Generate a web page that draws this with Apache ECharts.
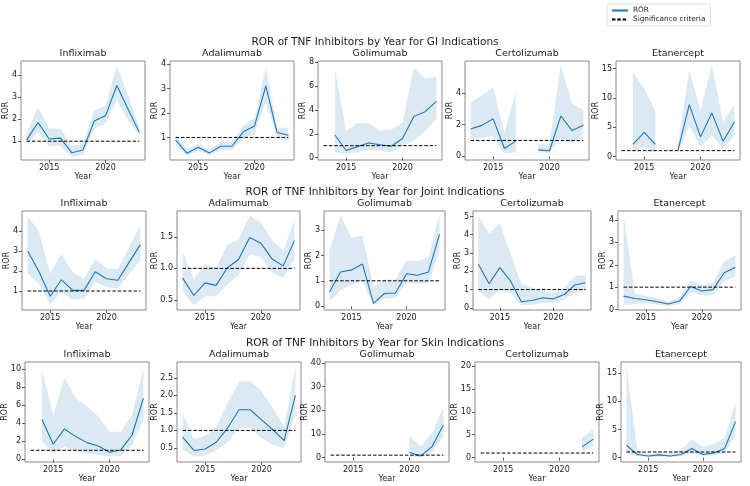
<!DOCTYPE html>
<html><head><meta charset="utf-8">
<script src="https://cdn.jsdelivr.net/npm/echarts@6/dist/echarts.min.js"></script>
<style>html,body{margin:0;padding:0;background:#fff}#c{width:750px;height:486px}</style>
</head><body><div id="c"></div>
<script>
const years = [2013,2014,2015,2016,2017,2018,2019,2020,2021,2022,2023];
const drugs = ['Infliximab','Adalimumab','Golimumab','Certolizumab','Etanercept'];
const rowTitles = ['ROR of TNF Inhibitors by Year for GI Indications','ROR of TNF Inhibitors by Year for Joint Indications','ROR of TNF Inhibitors by Year for Skin Indications'];
const xTicks = [2015, 2020];
const threshold = 1;

// GI
const giInfRor = [1.05,1.85,1.1,1.14,0.48,0.6,1.92,2.15,3.52,2.45,1.4];
const giInfLo  = [0.8,1.42,0.78,0.8,0.3,0.38,1.58,1.8,2.86,1.95,1.25];
const giInfHi  = [1.35,2.56,1.58,1.58,0.78,0.9,2.38,2.6,4.38,3.1,1.6];
const giAdaRor = [0.89,0.36,0.6,0.37,0.64,0.64,1.23,1.47,3.1,1.2,1.09];
const giAdaLo  = [0.67,0.27,0.44,0.27,0.49,0.49,0.96,1.13,2.47,1.0,0.87];
const giAdaHi  = [1.13,0.53,0.73,0.49,0.83,0.83,1.49,1.77,3.87,1.4,1.4];
const giGolRor = [null,1.9,0.6,0.92,1.22,1.08,0.95,1.6,3.44,3.85,4.72];
const giGolLo  = [null,0.46,0.33,0.46,0.65,0.6,0.46,1.0,1.41,2.22,3.25];
const giGolHi  = [null,7.37,2.22,2.9,2.85,2.28,2.36,2.9,7.56,6.61,6.75];
const giCerRor = [1.72,1.95,2.36,0.49,0.96,null,0.41,0.35,2.54,1.62,1.95];
const giCerLo  = [1.07,1.17,1.27,0.18,0.25,null,0.25,0.25,1.17,0.8,1.37];
const giCerHi  = [3.38,3.84,4.35,1.48,4.04,null,0.76,0.76,5.74,3.32,2.91];
const giEtaRor = [null,2.05,4.1,2.05,null,1.08,8.86,3.35,7.44,2.6,5.9];
const giEtaLo  = [null,0.8,1.65,0.8,null,0.55,5.2,1.65,3.6,1.36,3.6];
const giEtaHi  = [null,14.4,11.6,7.7,null,2.0,14.7,7.9,15.6,5.9,8.86];
const giYlims  = [[0.15,4.63],[0.08,4.12],[-0.2,8.1],[-0.23,6.0],[-0.6,16.3]];
const giYticks = [[1,2,3,4],[1,2,3,4],[0,2,4,6,8],[0,2,4],[0,5,10,15]];

// Joint
const jtInfRor = [3.0,1.97,0.74,1.56,1.03,1.03,1.96,1.61,1.54,2.43,3.32];
const jtInfLo  = [1.89,1.36,0.34,0.95,0.57,0.62,1.44,1.2,1.12,1.86,2.52];
const jtInfHi  = [4.74,4.0,1.86,2.85,1.94,1.61,2.6,2.14,2.1,3.17,4.33];
const jtAdaRor = [0.85,0.57,0.77,0.73,1.01,1.14,1.49,1.4,1.15,1.04,1.44];
const jtAdaLo  = [0.64,0.41,0.56,0.56,0.74,0.9,1.22,1.18,0.93,0.85,1.14];
const jtAdaHi  = [1.27,0.82,1.07,1.01,1.38,1.46,1.84,1.72,1.45,1.28,1.76];
const jtGolRor = [0.56,1.35,1.43,1.66,0.11,0.5,0.52,1.28,1.22,1.35,2.83];
const jtGolLo  = [0.19,0.63,0.84,1.0,0.04,0.29,0.33,0.91,0.88,0.91,2.15];
const jtGolHi  = [2.21,3.59,2.7,2.79,0.77,1.05,1.05,1.8,1.77,1.94,3.65];
const jtCerRor = [2.38,1.32,2.2,1.47,0.33,0.4,0.55,0.49,0.73,1.25,1.37];
const jtCerLo  = [0.92,0.46,1.0,0.82,0.13,0.18,0.27,0.27,0.46,0.82,0.92];
const jtCerHi  = [5.04,4.07,4.63,2.93,1.32,1.1,1.0,0.82,1.1,1.74,1.78];
const jtEtaRor = [0.6,0.49,0.44,0.35,0.25,0.38,1.03,0.83,0.89,1.64,1.89];
const jtEtaLo  = [0.19,0.25,0.28,0.22,0.15,0.25,0.78,0.63,0.66,1.25,1.49];
const jtEtaHi  = [4.2,0.72,0.6,0.5,0.35,0.55,1.3,1.08,1.2,2.14,2.41];
const jtYlims  = [[0.05,5.0],[0.34,1.91],[-0.15,3.75],[-0.12,5.3],[-0.02,4.4]];
const jtYticks = [[1,2,3,4],[0.5,1.0,1.5],[0,1,2,3],[0,1,2,3,4,5],[0,1,2,3,4]];

// Skin
const skInfRor = [null,4.44,1.67,3.37,2.52,1.85,1.48,0.78,1.04,2.7,6.78];
const skInfLo  = [null,1.96,0.67,1.41,0.85,0.67,0.48,0.3,0.37,1.59,4.37];
const skInfHi  = [null,9.93,4.93,9.0,6.78,5.85,4.74,3.07,3.07,4.93,10.1];
const skAdaRor = [0.81,0.43,0.47,0.67,1.07,1.59,1.59,1.3,1.02,0.71,2.0];
const skAdaLo  = [0.45,0.26,0.28,0.43,0.66,1.07,1.07,0.78,0.59,0.5,1.45];
const skAdaHi  = [1.5,0.75,0.85,1.11,1.78,2.4,2.4,2.11,1.64,1.11,2.78];
const skGolRor = [null,null,null,null,null,null,null,2.1,0.7,4.66,13.8];
const skGolLo  = [null,null,null,null,null,null,null,0.42,0.14,2.1,8.9];
const skGolHi  = [null,null,null,null,null,null,null,8.9,4.66,10.3,21.3];
const skCerRor = [null,null,null,null,null,null,null,null,null,2.35,4.04];
const skCerLo  = [null,null,null,null,null,null,null,null,null,1.25,2.5];
const skCerHi  = [null,null,null,null,null,null,null,null,null,4.34,6.18];
const skEtaRor = [2.2,0.54,0.3,0.48,0.3,0.54,1.62,0.54,0.84,1.62,6.4];
const skEtaLo  = [0.72,0.24,0.12,0.18,0.12,0.24,0.72,0.24,0.42,0.84,4.0];
const skEtaHi  = [16.3,1.3,0.7,0.84,0.72,1.44,3.23,1.92,2.4,3.6,9.82];
const skYlims  = [[-0.3,10.8],[0.1,2.95],[-1.9,40.4],[-0.96,20.9],[-0.78,17.0]];
const skYticks = [[0,2,4,6,8,10],[0.5,1.0,1.5,2.0,2.5],[0,10,20,30,40],[0,5,10,15,20],[0,5,10,15]];

const rows = [
  {ror:[giInfRor,giAdaRor,giGolRor,giCerRor,giEtaRor], lo:[giInfLo,giAdaLo,giGolLo,giCerLo,giEtaLo], hi:[giInfHi,giAdaHi,giGolHi,giCerHi,giEtaHi], ylims:giYlims, yticks:giYticks},
  {ror:[jtInfRor,jtAdaRor,jtGolRor,jtCerRor,jtEtaRor], lo:[jtInfLo,jtAdaLo,jtGolLo,jtCerLo,jtEtaLo], hi:[jtInfHi,jtAdaHi,jtGolHi,jtCerHi,jtEtaHi], ylims:jtYlims, yticks:jtYticks},
  {ror:[skInfRor,skAdaRor,skGolRor,skCerRor,skEtaRor], lo:[skInfLo,skAdaLo,skGolLo,skCerLo,skEtaLo], hi:[skInfHi,skAdaHi,skGolHi,skCerHi,skEtaHi], ylims:skYlims, yticks:skYticks}
];

// layout (pixels)
const rowTop = [61, 211, 362];
const rowHeight = [99, 99, 100];
const rowTitleY = [42, 192, 343];
const colLeft  = [[21,170,318,465,616],[22,177,324,473,618],[25,177,325,475,621]];
const colWidth = [[124,124,124,124,124],[124,123,121,118,123],[124,124,124,124,120]];

const FONT = 'DejaVu Sans';
const TXT = '#1a1a1a';
const BAND = 'rgba(31,119,180,0.16)';
const grids=[], xAxes=[], yAxes=[], series=[], titles=[];

rowTitles.forEach((t,r)=>titles.push({text:t,left:375,top:rowTitleY[r],textAlign:'center',textVerticalAlign:'middle',padding:0,
  textStyle:{fontSize:10.5,fontWeight:'normal',color:TXT,fontFamily:FONT}}));

function runsOf(lo, hi){
  const runs=[]; let s=-1;
  for(let k=0;k<=years.length;k++){
    const ok = k<years.length && lo[k]!=null && hi[k]!=null;
    if(ok && s<0) s=k;
    if(!ok && s>=0){ runs.push([s,k-1]); s=-1; }
  }
  return runs;
}

let gi = 0;
rows.forEach((row, r)=>{
  for (let c=0;c<5;c++){
    const L=colLeft[r][c], W=colWidth[r][c], T=rowTop[r], H=rowHeight[r];
    const ticks = row.yticks[c];
    const dec = ticks.some(v=>Math.round(v)!==v);
    const labW = Math.max(...ticks.map(v=>{const s=dec?v.toFixed(1):String(v); return s.replace('.','').length*5.1+(dec?2.5:0);}));
    grids.push({left:L,top:T,width:W,height:H,show:true,borderColor:'#8a8a8a',borderWidth:1,backgroundColor:'transparent'});
    titles.push({text:drugs[c],left:L+W/2,top:T-7,textAlign:'center',textVerticalAlign:'middle',padding:0,
      textStyle:{fontSize:9.5,fontWeight:'normal',color:TXT,fontFamily:FONT}});
    xAxes.push({gridIndex:gi,type:'value',min:2012.5,max:2023.5,
      axisLine:{show:false},splitLine:{show:false},
      axisTick:{show:true,customValues:xTicks,length:3,lineStyle:{color:'#333',width:0.8}},
      axisLabel:{customValues:xTicks,fontSize:8,margin:4,color:TXT,fontFamily:FONT,formatter:v=>String(v)},
      name:'Year',nameLocation:'middle',nameGap:12,nameTextStyle:{fontSize:8,color:TXT,fontFamily:FONT}});
    yAxes.push({gridIndex:gi,type:'value',min:row.ylims[c][0],max:row.ylims[c][1],
      axisLine:{show:false},splitLine:{show:false},
      axisTick:{show:true,customValues:ticks,length:3,lineStyle:{color:'#333',width:0.8}},
      axisLabel:{customValues:ticks,fontSize:8,margin:4,color:TXT,fontFamily:FONT,formatter:v=>dec?Number(v).toFixed(1):String(v)},
      name:'ROR',nameLocation:'middle',nameRotate:90,nameGap:labW+5.5,nameMoveOverlap:false,
      nameTextStyle:{fontSize:8,color:TXT,fontFamily:FONT}});
    const lo=row.lo[c], hi=row.hi[c], ror=row.ror[c];
    const runs = runsOf(lo, hi).filter(rn=>rn[1]>rn[0]);
    series.push({type:'custom',name:'CI',xAxisIndex:gi,yAxisIndex:gi,silent:true,z:1,clip:true,
      data:runs.map(rn=>[years[rn[0]], lo[rn[0]], hi[rn[0]]]),
      encode:{x:0,y:[1,2]},
      renderItem:(params, api)=>{
        const rn = runs[params.dataIndex];
        const pts=[];
        for(let k=rn[0];k<=rn[1];k++) pts.push(api.coord([years[k], hi[k]]));
        for(let k=rn[1];k>=rn[0];k--) pts.push(api.coord([years[k], lo[k]]));
        return {type:'polygon',shape:{points:pts},style:{fill:BAND,stroke:null}};
      }});
    series.push({type:'line',name:'ROR',xAxisIndex:gi,yAxisIndex:gi,symbol:'none',color:'#1f77b4',z:3,
      lineStyle:{color:'#1f77b4',width:1.1},data:years.map((y,k)=>[y,ror[k]])});
    series.push({type:'line',name:'Significance criteria',xAxisIndex:gi,yAxisIndex:gi,symbol:'none',color:'#000',z:4,
      lineStyle:{color:'#000',width:1,type:[3.5,1.8]},data:[[years[0],threshold],[years[years.length-1],threshold]]});
    gi++;
  }
});

const chart = echarts.init(document.getElementById('c'), null, {renderer:'canvas'});
chart.setOption({
  animation:false,
  backgroundColor:'#fff',
  title:titles,
  legend:{data:['ROR','Significance criteria'],orient:'vertical',left:607,top:4,itemWidth:16,itemHeight:8,itemGap:2,
    padding:[3,5,3,4],borderColor:'#d5d5d5',borderWidth:0.8,borderRadius:2,selectedMode:false,
    itemStyle:{opacity:0},
    textStyle:{fontSize:7.3,color:TXT,fontFamily:FONT}},
  grid:grids, xAxis:xAxes, yAxis:yAxes, series:series
});
</script></body></html>
